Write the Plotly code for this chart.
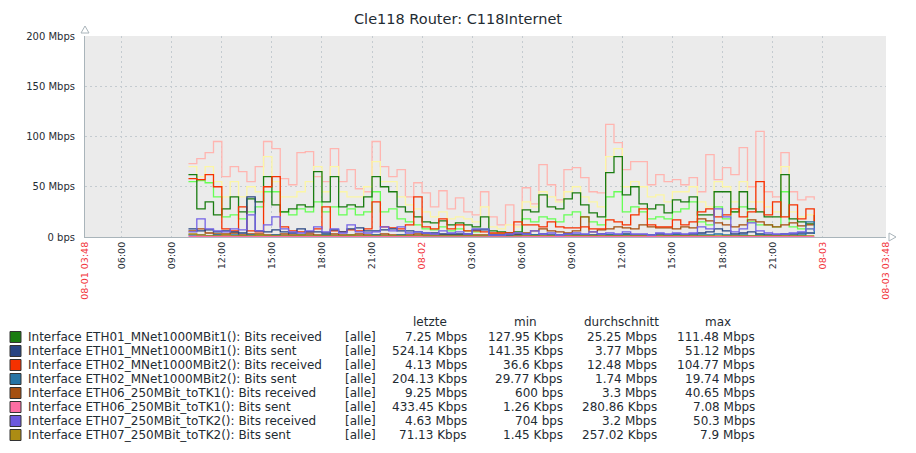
import pandas as pd
import plotly.graph_objects as go

W, H = 916, 453
ML, MR, MT, MB = 85, 30, 36, 216

# half-hour samples, 08-01 10:00 .. 08-02 23:30
times = pd.date_range("2017-08-01 10:00", periods=76, freq="30min")

# values in Mbps
eth01_recv_avg = [62, 28, 35, 22, 28, 40, 25, 38, 35, 60, 32, 25, 28, 32, 30, 65, 35, 60, 30, 32,
                  30, 40, 60, 50, 45, 30, 25, 20,
                  15, 14, 16, 12, 14, 12, 10, 20, 6, 5, 4, 5, 27, 25, 42, 30, 28, 38, 44, 32,
                  24, 20, 64, 80, 42, 50, 33, 28, 32, 24, 37, 35, 40, 22, 22, 45, 45, 25,
                  45, 28, 25, 20, 20, 62, 18, 15, 13, 12]
eth01_recv_min = [55, 56, 54, 40, 20, 22, 18, 25, 30, 45, 45, 25, 22, 28, 25, 35, 25, 30, 22, 28,
                  22, 25, 45, 25, 28, 18, 15, 12,
                  8, 7, 10, 6, 8, 6, 5, 8, 3, 3, 3, 3, 18, 15, 20, 18, 15, 22, 25, 20,
                  15, 12, 40, 45, 25, 30, 25, 18, 20, 18, 25, 28, 35, 15, 12, 30, 18, 25,
                  30, 15, 12, 12, 10, 45, 10, 8, 8, 6]
eth01_recv_max = [70, 60, 70, 55, 40, 55, 40, 50, 45, 80, 55, 40, 40, 45, 55, 70, 45, 70, 45, 40,
                  40, 50, 75, 55, 55, 40, 32, 28,
                  25, 20, 25, 18, 20, 18, 15, 30, 10, 8, 12, 10, 35, 30, 45, 40, 35, 45, 50, 40,
                  35, 30, 80, 88, 50, 55, 50, 40, 42, 35, 45, 45, 50, 35, 30, 55, 50, 35,
                  55, 35, 35, 30, 25, 70, 25, 20, 22, 15]
eth02_recv_max = [73, 78, 84, 95, 60, 70, 65, 55, 70, 95, 88, 58, 52, 84, 85, 60, 55, 88, 55, 67,
                  48, 45, 95, 70, 60, 67, 40, 54,
                  44, 30, 46, 28, 39, 25, 22, 45, 20, 12, 32, 12, 49, 33, 72, 52, 37, 67, 69, 59,
                  45, 44, 112, 94, 67, 75, 75, 52, 62, 55, 57, 52, 59, 45, 82, 57, 69, 62,
                  89, 50, 105, 45, 40, 84, 45, 37, 40, 37]
eth02_recv_avg = [58, 57, 62, 50, 8, 6, 30, 6, 5, 50, 60, 10, 6, 5, 5, 8, 30, 6, 5, 7,
                  6, 8, 35, 10, 9, 8, 12, 40,
                  10, 8, 18, 8, 12, 6, 6, 5, 4, 4, 4, 15, 12, 12, 10, 15, 10, 9, 9, 10,
                  8, 8, 17, 15, 12, 22, 28, 12, 10, 10, 17, 12, 15, 25, 28, 20, 22, 28,
                  20, 25, 55, 22, 35, 20, 32, 18, 28, 15]
eth07_recv_avg = [5, 18, 8, 6, 5, 8, 7, 22, 6, 12, 20, 8, 5, 4, 6, 10, 5, 8, 4, 12,
                  5, 4, 5, 10, 6, 10, 4, 5,
                  4, 3, 6, 4, 5, 3, 8, 8, 2, 2, 3, 4, 3, 6, 3, 4, 2, 3, 4, 3,
                  5, 3, 4, 3, 5, 3, 3, 2, 4, 3, 4, 3, 4, 10, 8, 28, 20, 5,
                  8, 14, 6, 4, 3, 3, 4, 5, 8, 6]
eth01_sent_avg = [8, 6, 7, 5, 6, 5, 4, 40, 6, 5, 7, 5, 4, 8, 5, 5, 4, 7, 5, 8,
                  9, 6, 6, 7, 8, 6, 6, 5,
                  4, 4, 3, 3, 3, 3, 7, 7, 2, 2, 2, 2, 3, 2, 3, 2, 2, 3, 2, 2,
                  2, 3, 2, 2, 3, 2, 2, 2, 3, 2, 3, 2, 3, 4, 5, 8, 6, 3,
                  4, 5, 3, 2, 2, 3, 3, 4, 4, 3]
eth06_recv_avg = [6, 8, 4, 3, 3, 4, 2, 3, 3, 2, 2, 3, 2, 2, 3, 2, 2, 3, 2, 2,
                  3, 2, 2, 3, 2, 2, 2, 3,
                  2, 2, 2, 2, 2, 2, 2, 2, 2, 2, 2, 3, 4, 6, 8, 6, 5, 4, 6, 20,
                  5, 7, 8, 10, 9, 8, 12, 10, 9, 9, 8, 10, 9, 18, 16, 14, 12, 10,
                  12, 17, 15, 12, 10, 12, 14, 11, 12, 22]
eth02_sent_avg = [2, 2, 1, 2, 1, 2, 1, 2, 1, 1, 2, 1, 1, 2, 1, 1, 2, 1, 1, 2,
                  1, 1, 2, 1, 1, 2, 1, 1,
                  1, 1, 1, 1, 1, 1, 1, 1, 1, 1, 1, 1, 1, 2, 1, 1, 2, 1, 1, 2,
                  1, 1, 2, 1, 2, 1, 1, 2, 1, 1, 2, 1, 1, 2, 2, 3, 2, 1,
                  2, 1, 2, 1, 1, 2, 1, 2, 15, 3]
eth07_sent_avg = [3, 2, 1, 1, 2, 1, 1, 1, 2, 1, 1, 1, 1, 2, 1, 1, 1, 1, 1, 2,
                  1, 1, 1, 1, 1, 1, 1, 1,
                  1, 1, 1, 1, 1, 1, 1, 1, 0.5, 0.5, 0.5, 1, 1, 1, 1, 1, 1, 1, 1, 1,
                  1, 1, 1, 1, 1, 1, 1, 1, 1, 1, 1, 1, 1, 1, 1, 1, 1, 1,
                  1, 1, 1, 1, 1, 1, 1, 1, 1, 1]
eth06_sent_avg = [0.5, 0.5, 0.4, 0.4, 0.5, 0.4, 0.3, 0.4, 0.4, 0.3, 0.4, 0.3, 0.3, 0.4, 0.3, 0.3,
                  0.3, 0.4, 0.3, 0.3, 0.3, 0.3, 0.4, 0.3, 0.3, 0.3, 0.3, 0.3,
                  0.2, 0.2, 0.2, 0.2, 0.2, 0.2, 0.2, 0.2, 0.2, 0.2, 0.2, 0.2, 0.3, 0.3, 0.3, 0.3,
                  0.3, 0.3, 0.3, 0.3, 0.3, 0.3, 0.4, 0.4, 0.3, 0.3, 0.3, 0.3, 0.3, 0.3, 0.3, 0.3,
                  0.3, 0.3, 0.3, 0.4, 0.4, 0.3, 0.3, 0.3, 0.3, 0.3, 0.3, 0.3, 0.3, 0.3, 0.4, 0.4]

# drawing order, back to front
traces = [
    (eth02_recv_max, "#FFB5B0"),
    (eth01_recv_max, "#FCF6A6"),
    (eth01_recv_min, "#66FF55"),
    (eth01_recv_avg, "#1A7C11"),
    (eth06_recv_avg, "#A54F10"),
    (eth02_recv_avg, "#F63100"),
    (eth01_sent_avg, "#274482"),
    (eth02_sent_avg, "#2774A4"),
    (eth07_sent_avg, "#AC8C14"),
    (eth06_sent_avg, "#FC6EA3"),
    (eth07_recv_avg, "#7462E6"),
]

y_ticks = [0, 50, 100, 150, 200]
y_labels = ["0 bps", "50 Mbps", "100 Mbps", "150 Mbps", "200 Mbps"]

x_ticks = ["2017-08-01 03:48", "2017-08-01 06:00", "2017-08-01 09:00", "2017-08-01 12:00",
           "2017-08-01 15:00", "2017-08-01 18:00", "2017-08-01 21:00", "2017-08-02 00:00",
           "2017-08-02 03:00", "2017-08-02 06:00", "2017-08-02 09:00", "2017-08-02 12:00",
           "2017-08-02 15:00", "2017-08-02 18:00", "2017-08-02 21:00", "2017-08-03 00:00",
           "2017-08-03 03:48"]
x_labels = ["08-01 03:48", "06:00", "09:00", "12:00", "15:00", "18:00", "21:00", "08-02",
            "03:00", "06:00", "09:00", "12:00", "15:00", "18:00", "21:00", "08-03",
            "08-03 03:48"]
red_labels = {"08-01 03:48", "08-02", "08-03", "08-03 03:48"}

legend_names = [
    "Interface ETH01_MNet1000MBit1(): Bits received",
    "Interface ETH01_MNet1000MBit1(): Bits sent",
    "Interface ETH02_MNet1000MBit2(): Bits received",
    "Interface ETH02_MNet1000MBit2(): Bits sent",
    "Interface ETH06_250MBit_toTK1(): Bits received",
    "Interface ETH06_250MBit_toTK1(): Bits sent",
    "Interface ETH07_250MBit_toTK2(): Bits received",
    "Interface ETH07_250MBit_toTK2(): Bits sent",
]
legend_colors = ["#1A7C11", "#274482", "#F63100", "#2774A4", "#A54F10", "#FC6EA3", "#6C59DC", "#AC8C14"]
col_last = ["7.25 Mbps", "524.14 Kbps", "4.13 Mbps", "204.13 Kbps", "9.25 Mbps", "433.45 Kbps", "4.63 Mbps", "71.13 Kbps"]
col_min = ["127.95 Kbps", "141.35 Kbps", "36.6 Kbps", "29.77 Kbps", "600 bps", "1.26 Kbps", "704 bps", "1.45 Kbps"]
col_avg = ["25.25 Mbps", "3.77 Mbps", "12.48 Mbps", "1.74 Mbps", "3.3 Mbps", "280.86 Kbps", "3.2 Mbps", "257.02 Kbps"]
col_max = ["111.48 Mbps", "51.12 Mbps", "104.77 Mbps", "19.74 Mbps", "40.65 Mbps", "7.08 Mbps", "50.3 Mbps", "7.9 Mbps"]

TXT = "#1F2C33"
AXIS = "#A9B4BA"
GRID = "#C4CBD0"
FONT = "DejaVu Sans"

pw = W - ML - MR
ph = H - MT - MB


def px(x):
    return (x - ML) / pw


def py(y):
    return (H - MB - y) / ph


fig = go.Figure()
for vals, color in traces:
    fig.add_trace(go.Scatter(
        x=times, y=vals, mode="lines",
        line=dict(color=color, width=1.3, shape="hv"),
        showlegend=False, hoverinfo="skip",
    ))

ticktext = [f"<span style='color:#F2353B'>{t}</span>" if t in red_labels else t for t in x_labels]

fig.update_layout(
    width=W, height=H,
    margin=dict(l=ML, r=MR, t=MT, b=MB),
    paper_bgcolor="white",
    plot_bgcolor="#EBEBEB",
    font=dict(family=FONT, color=TXT, size=11),
    title=dict(text="Cle118 Router: C118Internet", x=0.5, xref="container", xanchor="center",
               y=1 - 19 / H, yref="container", yanchor="middle",
               font=dict(size=14.5, color=TXT, family=FONT)),
    showlegend=False,
)
fig.update_xaxes(
    type="date", range=[x_ticks[0], x_ticks[-1]],
    tickvals=x_ticks, ticktext=ticktext, tickangle=-90,
    tickfont=dict(size=9.5, color=TXT),
    showgrid=True, gridcolor=GRID, griddash="2px,3px", gridwidth=1,
    showline=True, linecolor=AXIS, linewidth=1,
    ticks="", zeroline=False, fixedrange=True,
)
fig.update_yaxes(
    range=[0, 200], tickvals=y_ticks, ticktext=y_labels,
    tickfont=dict(size=10, color=TXT), ticklabelstandoff=7,
    showgrid=True, gridcolor=GRID, griddash="2px,3px", gridwidth=1,
    showline=True, linecolor=AXIS, linewidth=1,
    ticks="", zeroline=False, fixedrange=True,
)

# axis arrows
shapes = [
    dict(type="path", xref="paper", yref="paper",
         path=f"M {px(85)} {py(26)} L {px(81)} {py(33)} L {px(89)} {py(33)} Z",
         line=dict(color=AXIS, width=1), fillcolor="white"),
    dict(type="path", xref="paper", yref="paper",
         path=f"M {px(896)} {py(237)} L {px(889)} {py(233)} L {px(889)} {py(241)} Z",
         line=dict(color=AXIS, width=1), fillcolor="white"),
]

annotations = []
head_y = 322
for text, cx in [("letzte", 430), ("min", 525), ("durchschnitt", 621), ("max", 718)]:
    annotations.append(dict(text=text, x=px(cx), y=py(head_y), xref="paper", yref="paper",
                            xanchor="center", yanchor="middle", showarrow=False,
                            font=dict(size=12, color=TXT)))

for i, name in enumerate(legend_names):
    ry = 337 + 14 * i
    shapes.append(dict(type="rect", xref="paper", yref="paper",
                       x0=px(10), x1=px(21), y0=py(ry - 5.5), y1=py(ry + 5.5),
                       fillcolor=legend_colors[i], line=dict(color="#333333", width=1)))
    cells = [
        (name, 26, "left"),
        ("[alle]", 343, "left"),
        (col_last[i], 469, "right"),
        (col_min[i], 565, "right"),
        (col_avg[i], 659, "right"),
        (col_max[i], 757, "right"),
    ]
    for text, cx, anchor in cells:
        annotations.append(dict(text=text, x=px(cx), y=py(ry), xref="paper", yref="paper",
                                xanchor=anchor, yanchor="middle", showarrow=False,
                                font=dict(size=12, color=TXT)))

fig.update_layout(shapes=shapes, annotations=annotations)

# the page's default body margin would shift the whole chart
fig.write_html("out.html", config={"displayModeBar": False},
               post_script="document.body.style.margin='0';")
